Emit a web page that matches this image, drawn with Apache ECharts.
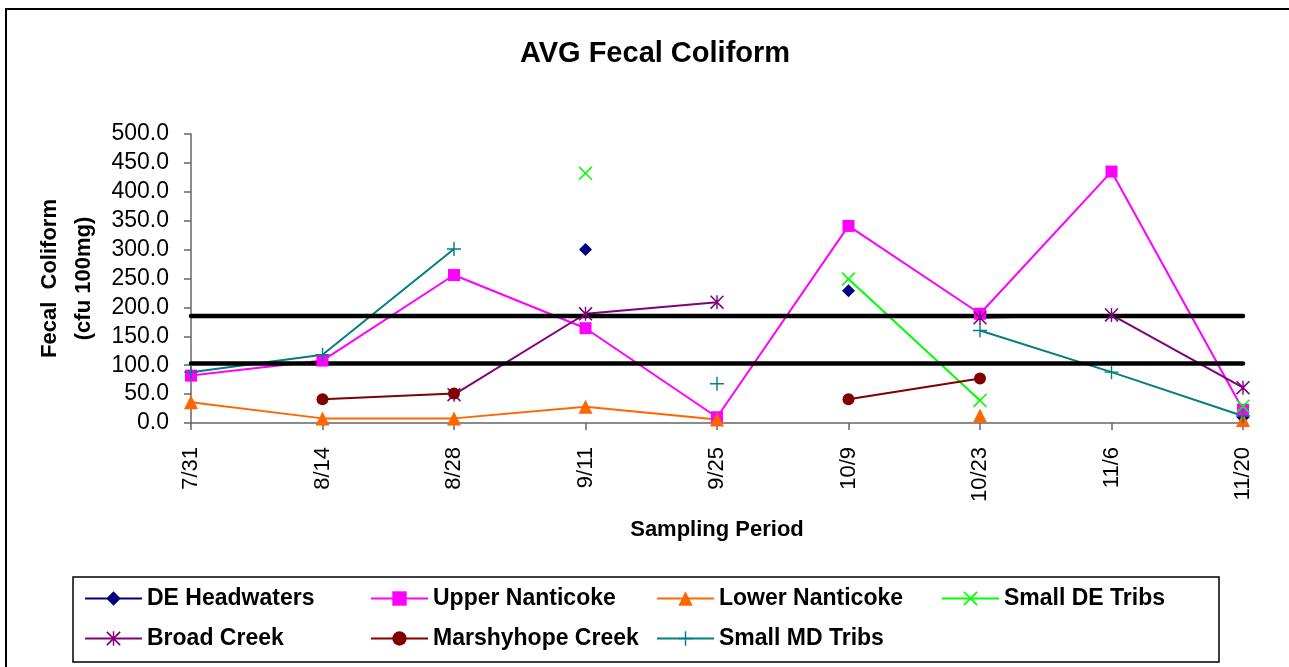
<!DOCTYPE html>
<html>
<head>
<meta charset="utf-8">
<script src="https://cdn.jsdelivr.net/npm/echarts@6/dist/echarts.min.js"></script>
<style>
  html, body { margin: 0; padding: 0; background: #fff; }
  #chart { width: 1289px; height: 667px; }
</style>
</head>
<body>
<div id="chart"></div>
<script>
// sampling periods and averages (null = no sample)
const categories = ['7/31', '8/14', '8/28', '9/11', '9/25', '10/9', '10/23', '11/6', '11/20']
const yTicks = [0, 50, 100, 150, 200, 250, 300, 350, 400, 450, 500]

const deHeadwaters   = [null, null, null, 300, null, 229, null, null, 10]
const upperNanticoke = [82, 108, 256, 164, 10, 341, 189, 435, 23]
const lowerNanticoke = [36, 8, 8, 28, 6, null, 13, null, 5]
const smallDETribs   = [null, null, null, 432, null, 249, 39, null, 29]
const broadCreek     = [null, null, 49, 189, 209, null, 182, 187, 61]
const marshyhope     = [null, 41, 51, null, null, 41, 77, null, null]
const smallMDTribs   = [88, 118, 301, null, 68, null, 160, 88, 12]
const upperLimit     = [185, 185, 185, 185, 185, 185, 185, 185, 185]
const lowerLimit     = [103, 103, 103, 103, 103, 103, 103, 103, 103]

const FONT = '"Liberation Sans", Arial, sans-serif'

// filled shapes for the excel style x, + and * markers
const xPath = 'path://M0 1.6L1.6 0L20 18.4L18.4 20ZM18.4 0L20 1.6L1.6 20L0 18.4Z'
const plusPath = 'path://M0 9L20 9L20 11L0 11ZM9 0L11 0L11 20L9 20Z'
const starPath = 'path://M0 1.6L1.6 0L20 18.4L18.4 20ZM18.4 0L20 1.6L1.6 20L0 18.4ZM9 0L11 0L11 20L9 20Z'

function lineSeries (name, data, color, symbol, size) {
  return {
    name: name,
    type: 'line',
    data: data,
    symbol: symbol,
    symbolSize: size,
    showAllSymbol: true,
    connectNulls: false,
    lineStyle: { color: color, width: 2 },
    itemStyle: { color: color },
    emphasis: { disabled: true }
  }
}

function limitSeries (data) {
  return {
    type: 'line',
    data: data,
    symbol: 'none',
    lineStyle: { color: '#000', width: 4.5, cap: 'round' },
    emphasis: { disabled: true },
    silent: true
  }
}

function legendAt (name, left, top) {
  return {
    data: [name],
    left: left,
    top: top,
    padding: 0,
    itemWidth: 57,
    itemHeight: 18,
    selectedMode: false,
    textStyle: { fontFamily: FONT, fontSize: 23, fontWeight: 'bold', color: '#000' }
  }
}

const chart = echarts.init(document.getElementById('chart'))
chart.setOption({
  animation: false,
  backgroundColor: '#fff',
  title: {
    text: 'AVG Fecal Coliform',
    left: 650,
    top: 34,
    textAlign: 'center',
    textStyle: { fontFamily: FONT, fontSize: 29, fontWeight: 'bold', color: '#000' }
  },
  graphic: [
    { type: 'rect', shape: { x: 6, y: 9, width: 1300, height: 700 }, style: { fill: 'none', stroke: '#000', lineWidth: 2 }, silent: true },
    { type: 'rect', shape: { x: 73, y: 577, width: 1146, height: 85 }, style: { fill: 'none', stroke: '#000', lineWidth: 1.5 }, silent: true }
  ],
  legend: [
    legendAt('DE Headwaters', 84, 587),
    legendAt('Upper Nanticoke', 370, 587),
    legendAt('Lower Nanticoke', 656, 587),
    legendAt('Small DE Tribs', 941, 587),
    legendAt('Broad Creek', 84, 627),
    legendAt('Marshyhope Creek', 370, 627),
    legendAt('Small MD Tribs', 656, 627)
  ],
  grid: { left: 191, right: 46, top: 134, bottom: 244 },
  xAxis: {
    type: 'category',
    data: categories,
    boundaryGap: false,
    name: 'Sampling Period',
    nameLocation: 'middle',
    nameGap: 96,
    nameTextStyle: { fontFamily: FONT, fontSize: 22, fontWeight: 'bold', color: '#000' },
    axisLine: { lineStyle: { color: '#666', width: 1.5 } },
    axisTick: { length: 7, lineStyle: { color: '#666', width: 1.5 } },
    axisLabel: { rotate: 90, margin: 24, fontFamily: FONT, fontSize: 22, color: '#000' },
    splitLine: { show: false }
  },
  yAxis: {
    type: 'value',
    min: yTicks[0],
    max: yTicks[yTicks.length - 1],
    interval: yTicks[1] - yTicks[0],
    name: 'Fecal  Coliform\n(cfu 100mg)',
    nameLocation: 'middle',
    nameGap: 88,
    nameTextStyle: { fontFamily: FONT, fontSize: 22, fontWeight: 'bold', color: '#000', lineHeight: 34 },
    axisLine: { show: true, lineStyle: { color: '#666', width: 1.5 } },
    axisTick: { show: true, length: 7, lineStyle: { color: '#666', width: 1.5 } },
    axisLabel: { margin: 22, fontFamily: FONT, fontSize: 23, color: '#000', formatter: v => v.toFixed(1) },
    splitLine: { show: false }
  },
  series: [
    lineSeries('DE Headwaters', deHeadwaters, '#000080', 'diamond', 13),
    lineSeries('Upper Nanticoke', upperNanticoke, '#FF00FF', 'rect', 12),
    lineSeries('Lower Nanticoke', lowerNanticoke, '#FF6600', 'triangle', 14),
    lineSeries('Small DE Tribs', smallDETribs, '#00FF00', xPath, 14),
    lineSeries('Broad Creek', broadCreek, '#800080', starPath, 14),
    lineSeries('Marshyhope Creek', marshyhope, '#800000', 'circle', 12),
    lineSeries('Small MD Tribs', smallMDTribs, '#008080', plusPath, 14),
    limitSeries(upperLimit),
    limitSeries(lowerLimit)
  ]
})
</script>
</body>
</html>
